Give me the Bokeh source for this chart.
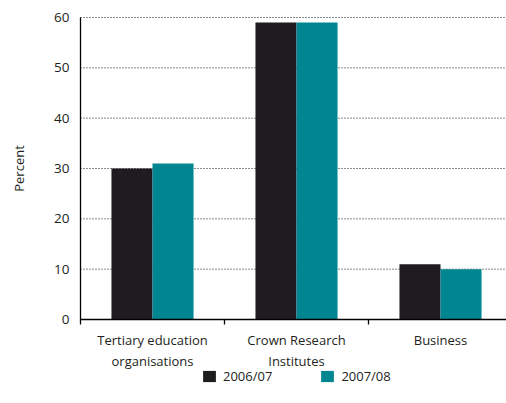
import math
from bokeh.plotting import figure
from bokeh.models import ColumnDataSource, FixedTicker, Legend, LegendItem, Range1d, Label
from bokeh.embed import file_html
from bokeh.resources import INLINE

categories = ["Tertiary education\norganisations", "Crown Research\nInstitutes", "Business"]
series_names = ["2006/07", "2007/08"]
values_2006 = [30, 59, 11]
values_2007 = [31, 59, 10]
y_ticks = [0, 10, 20, 30, 40, 50, 60]

FONT = "Open Sans"
TXT = "#231f20"
C1 = "#1e1c1e"
C2 = "#008691"
BW = 0.285

# layout (pixels): plot area left edge at 80, value 0 at y=319, value 60 at y=17
W, H = 506, 403
LEFT, ZERO_Y, TOP_Y = 80, 319, 17
Y_MAX = 60
PX_PER_CAT = 144
ppu = (ZERO_Y - TOP_Y) / Y_MAX
X_END = (W - LEFT) / PX_PER_CAT

centers = [i + 0.5 for i in range(len(categories))]
src1 = ColumnDataSource(dict(x=[c - BW / 2 for c in centers], top=values_2006))
src2 = ColumnDataSource(dict(x=[c + BW / 2 for c in centers], top=values_2007))

p = figure(width=W, height=H, output_backend="svg", toolbar_location=None,
           x_range=Range1d(-LEFT / PX_PER_CAT, X_END),
           y_range=Range1d(-(H - ZERO_Y) / ppu, ZERO_Y / ppu),
           min_border=0, min_border_left=0, min_border_right=0,
           min_border_top=0, min_border_bottom=0)
p.outline_line_color = None
p.background_fill_color = "white"
p.xgrid.grid_line_color = None
p.ygrid.grid_line_color = None

# dotted horizontal grid at the y ticks, spanning the plot area only
p.segment(x0=[0] * len(y_ticks), x1=[X_END] * len(y_ticks), y0=y_ticks, y1=y_ticks,
          line_color="#1a1a1a", line_dash="1 2", line_width=1)

r1 = p.vbar(x="x", top="top", width=BW, bottom=0, source=src1, fill_color=C1, line_color=None)
r2 = p.vbar(x="x", top="top", width=BW, bottom=0, source=src2, fill_color=C2, line_color=None)

ya = p.yaxis[0]
ya.fixed_location = 0
ya.ticker = FixedTicker(ticks=y_ticks)
ya.bounds = (0, Y_MAX)
ya.axis_line_color = "black"
ya.axis_line_width = 1.3
ya.major_tick_line_color = None
ya.minor_tick_line_color = None
ya.major_label_standoff = 5
ya.major_label_text_font = FONT
ya.major_label_text_font_size = "13.5px"
ya.major_label_text_color = TXT

xa = p.xaxis[0]
xa.fixed_location = 0
xa.bounds = (0, X_END)
xa.ticker = FixedTicker(ticks=centers, minor_ticks=[0, 1, 2])
xa.major_label_overrides = {c: lab for c, lab in zip(centers, categories)}
xa.axis_line_color = "black"
xa.axis_line_width = 1.3
xa.major_tick_line_color = None
xa.minor_tick_line_color = "black"
xa.minor_tick_line_width = 1.3
xa.minor_tick_in = 0
xa.minor_tick_out = 5
xa.major_label_standoff = 5
xa.major_label_text_font = FONT
xa.major_label_text_font_size = "13px"
xa.major_label_text_color = TXT

p.add_layout(Label(x=0, y=Y_MAX / 2, x_offset=-62, text="Percent", angle=math.pi / 2,
                   text_align="center", text_baseline="middle", text_font=FONT,
                   text_font_size="13px", text_color=TXT))

lg = Legend(items=[LegendItem(label=series_names[0], renderers=[r1], index=0),
                   LegendItem(label=series_names[1], renderers=[r2], index=0)],
            location=(201, 18), orientation="horizontal",
            padding=0, margin=0, spacing=47, border_line_color=None,
            background_fill_alpha=0, glyph_width=16, glyph_height=14,
            label_standoff=6, label_text_font=FONT, label_text_font_size="13px",
            label_text_color=TXT, label_height=14)
p.add_layout(lg, "center")

open("out.html", "w").write(file_html(p, INLINE))
